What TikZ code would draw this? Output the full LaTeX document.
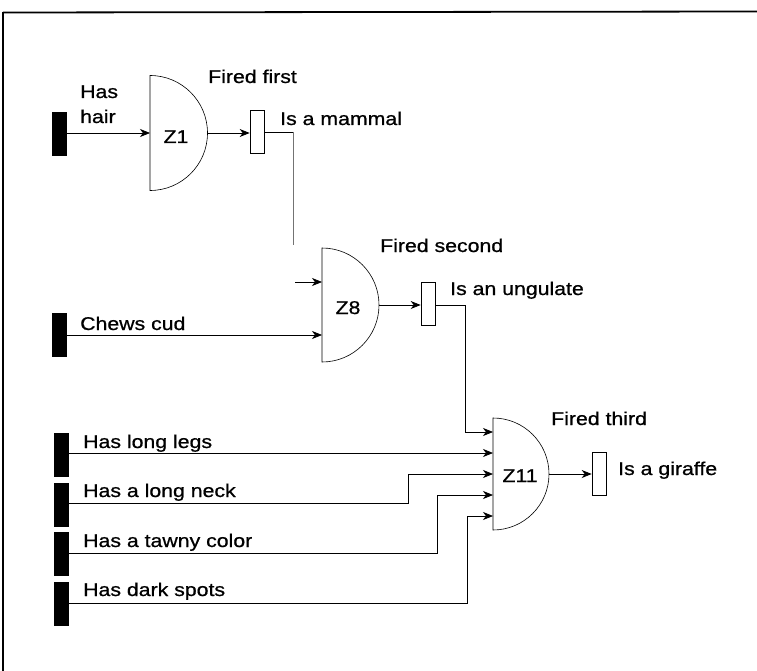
\documentclass[tikz,border=0pt]{standalone}
\usepackage{fontspec}
\setmainfont{Liberation Sans}[FakeStretch=1.15,FakeBold=0.8]
\usetikzlibrary{arrows.meta}
\begin{document}
\begin{tikzpicture}[x=1pt,y=-1pt,
  wire/.style={line width=0.75pt},
  arr/.style={wire,-{Stealth[length=10pt,width=8pt,inset=3pt]}},
  inbar/.style={rectangle,fill=black,draw=black,minimum width=14pt,minimum height=43pt,inner sep=0pt},
  outbox/.style={rectangle,draw=black,line width=0.6pt,fill=white,minimum width=14pt,minimum height=43pt,inner sep=0pt},
  gateline/.style={line width=0.6pt},
  lbl/.style={anchor=base west,inner sep=0pt,font=\fontsize{18.5}{22}\selectfont},
  glbl/.style={anchor=base,inner sep=0pt,font=\fontsize{18.5}{22}\selectfont}]
\useasboundingbox (0,0) rectangle (757,671);
% frame
\draw[line width=1.8pt] (3,12.5) -- (757,11.5);
\draw[line width=1.3pt] (3,12) -- (3,671);

% gates
\draw[gateline] (150,75.5) arc[start angle=90,end angle=-90,radius=57.5pt] -- cycle;
\draw[gateline] (322,248) arc[start angle=90,end angle=-90,radius=57pt] -- cycle;
\draw[gateline] (493,418) arc[start angle=90,end angle=-90,radius=56pt] -- cycle;
\node[glbl] (z1) at (176,143) {Z1};
\node[glbl] (z8) at (348,314) {Z8};
\node[glbl] (z11) at (520,482) {Z11};

% gate anchors
\coordinate (z1in) at (150,133);
\coordinate (z1out) at (207.5,133);
\coordinate (z8ina) at (322,282);
\coordinate (z8inb) at (322,335);
\coordinate (z8out) at (379,305);
\coordinate (z11in1) at (493,432);
\coordinate (z11in2) at (493,453);
\coordinate (z11in3) at (493,474);
\coordinate (z11in4) at (493,495);
\coordinate (z11in5) at (493,516);
\coordinate (z11out) at (549,474);

% input bars
\node[inbar] (hair) at (59,133.5) {};
\node[inbar] (cud) at (59,335) {};
\node[inbar] (legs) at (61,454.5) {};
\node[inbar] (neck) at (61,504.5) {};
\node[inbar] (tawny) at (61,554) {};
\node[inbar] (spots) at (61,604) {};

% output boxes
\node[outbox] (b1) at (257,132) {};
\node[outbox] (b8) at (428,304) {};
\node[outbox] (b11) at (599,473.5) {};

% labels
\node[lbl] (t1) at (80,98) {Has};
\node[lbl] (t2) at (80,123) {hair};
\node[lbl] (t3) at (80,330) {Chews cud};
\node[lbl] (t4) at (83,448) {Has long legs};
\node[lbl] (t5) at (83,497) {Has a long neck};
\node[lbl] (t6) at (83,547) {Has a tawny color};
\node[lbl] (t7) at (83,596) {Has dark spots};
\node[lbl] (f1) at (208,83) {Fired first};
\node[lbl] (f2) at (380,252) {Fired second};
\node[lbl] (f3) at (551,425) {Fired third};
\node[lbl] (o1) at (280,125) {Is a mammal};
\node[lbl] (o2) at (450,295) {Is an ungulate};
\node[lbl] (o3) at (618,475) {Is a giraffe};

% connectors
\draw[arr] (hair.east |- z1in) -- (z1in);
\draw[arr] (z1out) -- (b1.west |- z1out);
\coordinate (m1) at (293,245);
\draw[wire] (b1.east |- 0,132) -- (293,132);
\draw[wire,black!55] (293,132) -- (m1);
\coordinate (m2) at (295,282);
\draw[arr] (m2) -- (z8ina);
\draw[arr] (cud.east |- z8inb) -- (z8inb);
\draw[arr] (z8out) -- (b8.west |- z8out);
\draw[arr] (b8.east |- z8out) -- (465,305) -- (465,432) -- (z11in1);
\draw[arr] (legs.east |- z11in2) -- (z11in2);
\draw[arr] (neck.east |- 0,503) -- (408,503) -- (408,474) -- (z11in3);
\draw[arr] (tawny.east |- 0,553) -- (437,553) -- (437,495) -- (z11in4);
\draw[arr] (spots.east |- 0,603) -- (467,603) -- (467,516) -- (z11in5);
\draw[arr] (z11out) -- (b11.west |- z11out);
\end{tikzpicture}
\end{document}
